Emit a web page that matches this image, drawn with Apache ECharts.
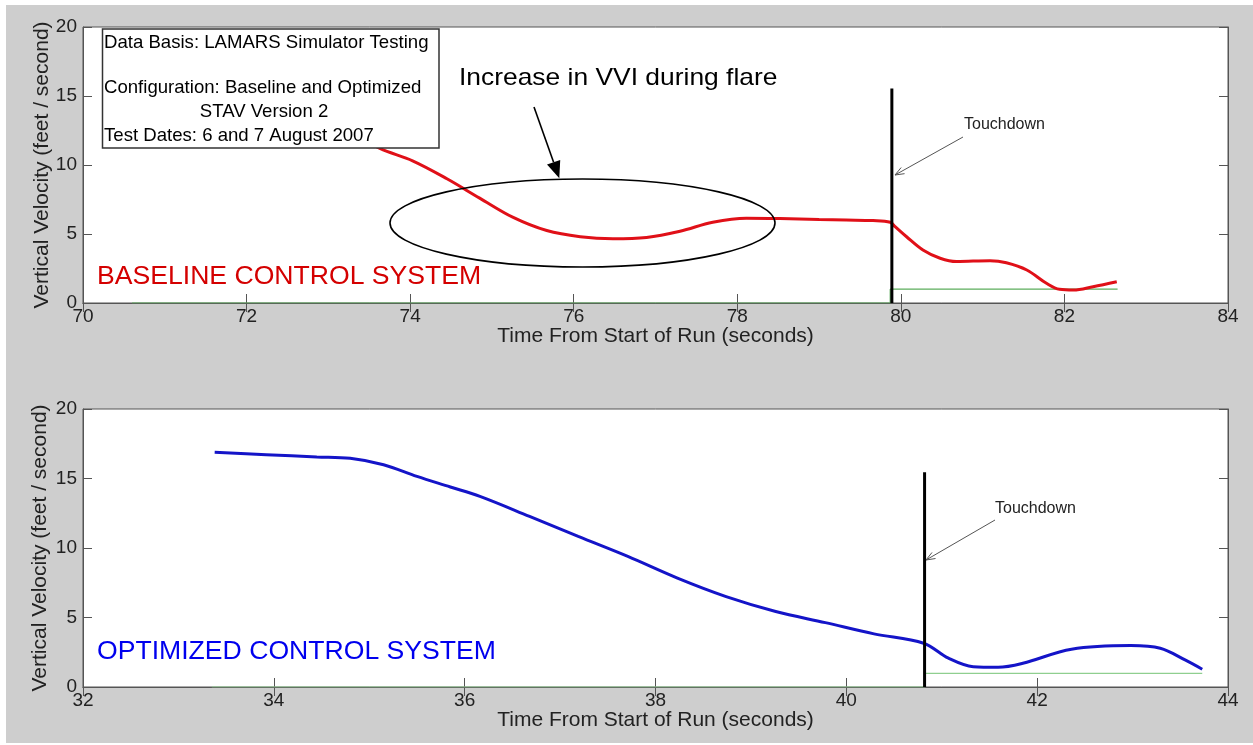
<!DOCTYPE html>
<html>
<head>
<meta charset="utf-8">
<title>Vertical velocity at touchdown</title>
<script src="https://cdn.jsdelivr.net/npm/echarts@6/dist/echarts.min.js"></script>
<style>
  html, body { margin: 0; padding: 0; background: #fff; }
  #main { width: 1253px; height: 745px; }
</style>
</head>
<body>
<div id="main"></div>
<script type="text/javascript">
// baseline run (top panel)
var baseTime = [72.0, 72.6, 73.1, 73.63, 74.03, 74.45, 74.85, 75.26, 75.67, 76.08, 76.48, 76.89, 77.3, 77.7, 78.11, 78.52, 79.0, 79.33, 79.66, 79.87, 79.93, 80.07, 80.27, 80.48, 80.68, 81.09, 81.29, 81.54, 81.78, 81.94, 82.11, 82.35, 82.64];
var baseVel  = [15.8, 14.7, 12.9, 11.2, 10.3, 9.0, 7.6, 6.2, 5.25, 4.8, 4.65, 4.75, 5.2, 5.85, 6.15, 6.12, 6.05, 6.01, 5.97, 5.85, 5.53, 4.8, 3.84, 3.24, 3.0, 3.07, 2.92, 2.39, 1.43, 0.99, 0.94, 1.18, 1.54];
var baseGroundT = [70.6, 79.87, 79.87, 82.65];
var baseGroundV = [0, 0, 1, 1];
var baseTouchdown = 79.89;

// optimized run (bottom panel)
var optTime = [33.38, 33.92, 34.45, 34.8, 35.15, 35.5, 35.85, 36.16, 36.68, 37.19, 37.71, 38.23, 38.74, 39.26, 39.78, 40.29, 40.81, 41.07, 41.33, 41.59, 41.85, 42.36, 42.98, 43.29, 43.55, 43.73];
var optVel  = [16.88, 16.71, 16.55, 16.45, 15.99, 15.15, 14.39, 13.71, 12.27, 10.83, 9.39, 7.83, 6.5, 5.43, 4.63, 3.82, 3.15, 2.07, 1.46, 1.42, 1.71, 2.72, 2.98, 2.79, 1.95, 1.28];
var optGroundT = [33.35, 40.82, 40.82, 43.73];
var optGroundV = [0, 0, 0.98, 0.98];
var optTouchdown = 40.82;

var touchTop = [15.55, 15.45];   // top of the touchdown marker lines

var topTicks = [70, 84, 2];
var botTicks = [32, 44, 2];
var velTicks = [0, 20, 5];

var FONT = 'Arial, "Liberation Sans", Helvetica, sans-serif';
var AXC = '#555';

function zip(a, b) {
    var out = [];
    for (var i = 0; i < a.length; i++) out.push([a[i], b[i]]);
    return out;
}

function xAxes(gi, t) {
    return [{
        gridIndex: gi, type: 'value', min: t[0], max: t[1], interval: t[2],
        name: 'Time From Start of Run (seconds)', nameLocation: 'middle', nameGap: 23, nameMoveOverlap: false,
        nameTextStyle: { fontFamily: FONT, fontSize: 21, color: '#222' },
        axisLine: { lineStyle: { color: AXC, width: 1 } },
        axisTick: { inside: true, length: 9, lineStyle: { color: AXC } },
        axisLabel: { fontFamily: FONT, fontSize: 19, color: '#222', margin: 4 },
        splitLine: { show: false }
    }, {
        gridIndex: gi, type: 'value', position: 'top', min: t[0], max: t[1], interval: t[2],
        axisLine: { lineStyle: { color: AXC, width: 1 } },
        axisTick: { inside: true, length: 9, lineStyle: { color: AXC } },
        axisLabel: { show: false }, splitLine: { show: false }
    }];
}

function yAxes(gi, gap) {
    return [{
        gridIndex: gi, type: 'value', min: velTicks[0], max: velTicks[1], interval: velTicks[2],
        name: 'Vertical Velocity (feet / second)', nameLocation: 'middle', nameGap: gap, nameMoveOverlap: false,
        nameTextStyle: { fontFamily: FONT, fontSize: 21, color: '#222' },
        axisLine: { show: true, lineStyle: { color: AXC, width: 1 } },
        axisTick: { show: true, inside: true, length: 9, lineStyle: { color: AXC } },
        axisLabel: { fontFamily: FONT, fontSize: 19, color: '#222', margin: 6 },
        splitLine: { show: false }
    }, {
        gridIndex: gi, type: 'value', position: 'right', min: velTicks[0], max: velTicks[1], interval: velTicks[2],
        axisLine: { show: true, lineStyle: { color: AXC, width: 1 } },
        axisTick: { show: true, inside: true, length: 9, lineStyle: { color: AXC } },
        axisLabel: { show: false }, splitLine: { show: false }
    }];
}

function line(xi, yi, data, color, width, smooth) {
    return {
        type: 'line', xAxisIndex: xi, yAxisIndex: yi, data: data,
        showSymbol: false, smooth: smooth || false, silent: true,
        lineStyle: { color: color, width: width }
    };
}

// arrow helper: shaft plus head, in pixels
function arrow(x1, y1, x2, y2, color, width, headLen, headW, filled) {
    var dx = x2 - x1, dy = y2 - y1, L = Math.sqrt(dx * dx + dy * dy);
    var ux = dx / L, uy = dy / L, px = -uy, py = ux;
    var bx = x2 - ux * headLen, by = y2 - uy * headLen;
    var els = [{
        type: 'line', z: 110,
        shape: { x1: x1, y1: y1, x2: filled ? bx : x2, y2: filled ? by : y2 },
        style: { stroke: color, lineWidth: width }
    }];
    var pts = [[bx + px * headW, by + py * headW], [x2, y2], [bx - px * headW, by - py * headW]];
    if (filled) {
        els.push({ type: 'polygon', z: 110, shape: { points: pts }, style: { fill: color } });
    } else {
        els.push({ type: 'polyline', z: 110, shape: { points: pts }, style: { stroke: color, lineWidth: width, fill: null } });
    }
    return els;
}

var myChart = echarts.init(document.getElementById('main'));

var graphics = [
    { type: 'rect', z: -100, shape: { x: 6, y: 5, width: 1247, height: 738 }, style: { fill: '#cecece' } },
    // info box
    { type: 'rect', z: 100, shape: { x: 102.5, y: 29, width: 336.5, height: 119 }, style: { fill: '#fff', stroke: '#333', lineWidth: 1.5 } },
    { type: 'text', z: 101, x: 104, y: 43, style: { text: 'Data Basis: LAMARS Simulator Testing', font: '18.6px ' + FONT, fill: '#000', verticalAlign: 'middle' } },
    { type: 'text', z: 101, x: 104, y: 88, style: { text: 'Configuration: Baseline and Optimized', font: '18.6px ' + FONT, fill: '#000', verticalAlign: 'middle' } },
    { type: 'text', z: 101, x: 264, y: 112, style: { text: 'STAV Version 2', font: '18.6px ' + FONT, fill: '#000', align: 'center', verticalAlign: 'middle' } },
    { type: 'text', z: 101, x: 104, y: 136, style: { text: 'Test Dates: 6 and 7 August 2007', font: '18.6px ' + FONT, fill: '#000', verticalAlign: 'middle' } },
    // flare callout
    { type: 'text', z: 101, x: 459, y: 78, scaleX: 1.1, style: { text: 'Increase in VVI during flare', font: '24px ' + FONT, fill: '#000', verticalAlign: 'middle' } },
    { type: 'ellipse', z: 105, shape: { cx: 582.5, cy: 223, rx: 192.5, ry: 44 }, style: { stroke: '#000', lineWidth: 1.6, fill: null } },
    // panel captions
    { type: 'text', z: 101, x: 97, y: 277, style: { text: 'BASELINE CONTROL SYSTEM', font: '26.6px ' + FONT, fill: '#d40000', verticalAlign: 'middle' } },
    { type: 'text', z: 101, x: 97, y: 652, style: { text: 'OPTIMIZED CONTROL SYSTEM', font: '26.6px ' + FONT, fill: '#0000ee', verticalAlign: 'middle' } },
    // touchdown labels
    { type: 'text', z: 101, x: 964, y: 125, style: { text: 'Touchdown', font: '16px ' + FONT, fill: '#222', verticalAlign: 'middle' } },
    { type: 'text', z: 101, x: 995, y: 509, style: { text: 'Touchdown', font: '16px ' + FONT, fill: '#222', verticalAlign: 'middle' } }
];
graphics = graphics
    .concat(arrow(534, 107, 559.3, 178.3, '#000', 1.6, 17, 7, true))
    .concat(arrow(963, 137, 895, 175, '#555', 1, 9, 3.5, false))
    .concat(arrow(995, 520, 926, 560, '#555', 1, 9, 3.5, false));

var option = {
    animation: false,
    backgroundColor: '#fff',
    grid: [
        { left: 83, top: 27, width: 1145, height: 276, show: true, backgroundColor: '#fff', borderColor: AXC, borderWidth: 1 },
        { left: 83, top: 409, width: 1145, height: 278, show: true, backgroundColor: '#fff', borderColor: AXC, borderWidth: 1 }
    ],
    xAxis: xAxes(0, topTicks).concat(xAxes(1, botTicks)),
    yAxis: yAxes(0, 30).concat(yAxes(1, 32)),
    series: [
        line(0, 0, zip(baseGroundT, baseGroundV), '#5cad5c', 1.2),
        line(0, 0, zip(baseTime, baseVel), '#e01018', 3, 0.35),
        line(0, 0, [[baseTouchdown, 0], [baseTouchdown, touchTop[0]]], '#000', 3),
        line(2, 2, zip(optGroundT, optGroundV), '#8fcf8f', 1.2),
        line(2, 2, zip(optTime, optVel), '#1414c8', 3, 0.35),
        line(2, 2, [[optTouchdown, 0], [optTouchdown, touchTop[1]]], '#000', 3)
    ],
    graphic: graphics
};

myChart.setOption(option);
</script>
</body>
</html>
